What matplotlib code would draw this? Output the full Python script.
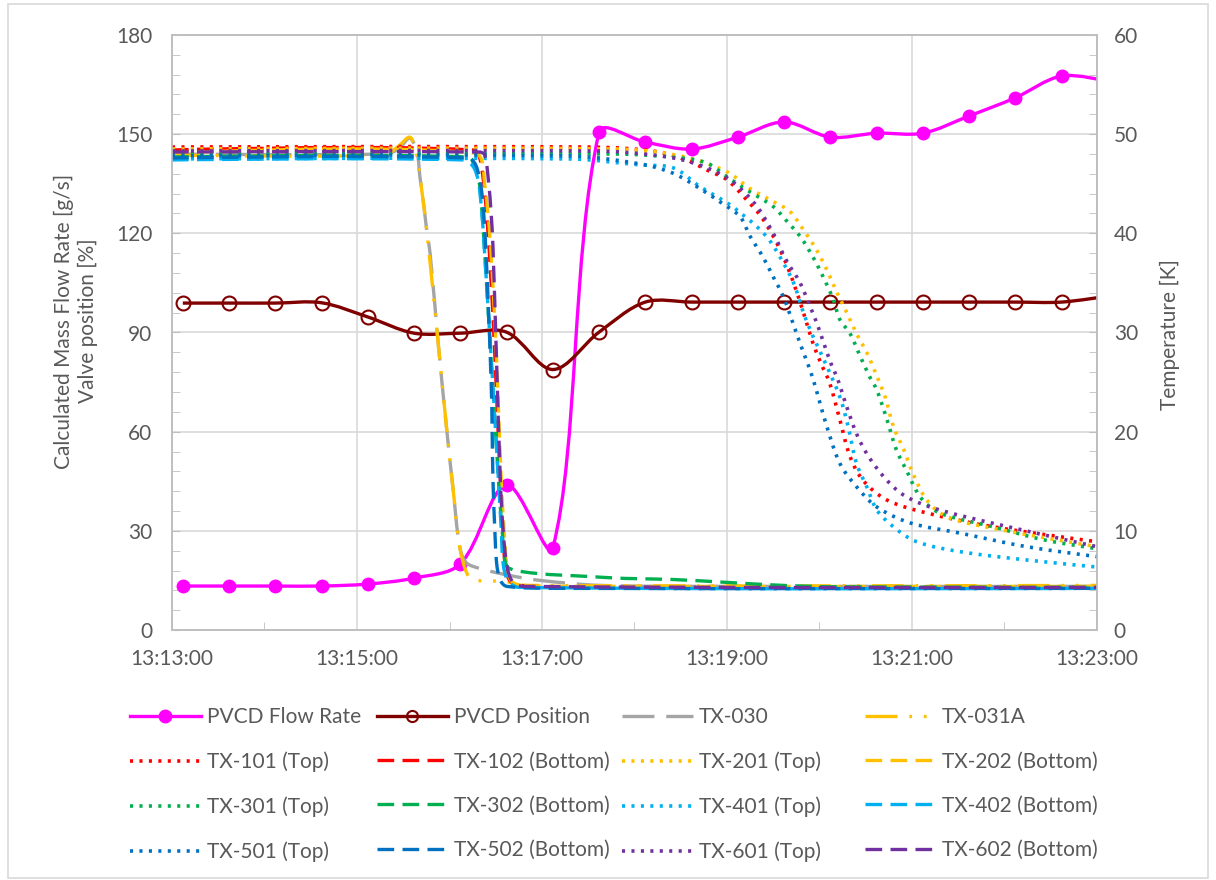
import datetime as dt
import numpy as np
import matplotlib
matplotlib.use("Agg")
import matplotlib.pyplot as plt
import matplotlib.dates as mdates
from matplotlib.path import Path
from matplotlib.patches import PathPatch, Rectangle
from matplotlib.lines import Line2D

# ---------------- data ----------------
# PVCD samples, clock time
pvcd_time = ["13:13:07", "13:13:37", "13:14:07", "13:14:37", "13:15:07", "13:15:37",
             "13:16:07", "13:16:37", "13:17:07", "13:17:37", "13:18:07", "13:18:37",
             "13:19:07", "13:19:37", "13:20:07", "13:20:37", "13:21:07", "13:21:37",
             "13:22:07", "13:22:37", "13:23:07"]
pvcd_flow = [13.3, 13.3, 13.3, 13.3, 13.9, 15.7, 20.0, 43.9, 24.8, 150.6, 147.6, 145.5,
             149.1, 153.7, 149.1, 150.3, 150.3, 155.5, 161.0, 167.6, 166.0]
pvcd_pos = [98.9, 98.9, 98.9, 99.0, 94.7, 89.8, 89.8, 90.1, 78.8, 90.1, 99.2, 99.2,
            99.2, 99.2, 99.2, 99.2, 99.2, 99.2, 99.2, 99.2, 101.0]

# temperatures: minutes after 13:13:00, kelvin
tx030_t = [0, 2.3, 2.45, 2.57, 2.65, 2.68, 2.72, 2.75, 2.79, 2.88, 2.97, 3.04, 3.11, 3.18, 3.33, 3.65, 3.98, 4.63, 6.0, 10.0]
tx030_k = [48.0, 48.0, 48.5, 49.6, 48.1, 45.7, 43.0, 40.6, 38.0, 28.7, 20.2, 14.1, 8.4, 6.8, 6.2, 5.5, 5.0, 4.5, 4.4, 4.4]
tx031a_t = [0, 2.3, 2.45, 2.57, 2.63, 2.68, 2.75, 2.88, 2.97, 3.04, 3.11, 3.2, 3.3, 3.6, 3.8, 10.0]
tx031a_k = [47.9, 47.9, 48.8, 49.7, 48.5, 45.7, 40.6, 28.7, 20.2, 14.1, 8.4, 5.5, 5.0, 4.9, 4.5, 4.5]

tx101_t = [0, 4.5, 5.2, 5.56, 5.78, 6.0, 6.21, 6.36, 6.5, 6.61, 6.72, 6.83, 6.93, 7.02, 7.11, 7.22, 7.33, 7.47, 7.73, 8.16, 8.88, 10.0]
tx101_k = [48.7, 48.7, 48.3, 47.4, 46.4, 45.4, 43.4, 41.8, 39.7, 37.6, 35.0, 31.9, 28.9, 26.8, 24.9, 21.2, 17.5, 15.1, 13.1, 11.8, 10.4, 8.9]
tx102_t = [0, 3.25, 3.35, 3.45, 3.55, 3.58, 3.60, 3.65, 3.76, 4.5, 10.0]
tx102_k = [48.4, 48.4, 46.5, 35.0, 15.1, 10.1, 6.7, 5.0, 4.5, 4.3, 4.3]

tx201_t = [0, 4.8, 5.5, 6.0, 6.25, 6.5, 6.68, 6.83, 6.97, 7.08, 7.19, 7.28, 7.40, 7.51, 7.62, 7.71, 7.80, 7.91, 8.01, 8.16, 8.38, 8.88, 10.0]
tx201_k = [48.5, 48.5, 47.8, 46.2, 44.5, 43.2, 42.2, 40.3, 38.3, 36.3, 34.0, 32.3, 29.9, 28.0, 25.6, 23.5, 20.5, 18.2, 15.8, 13.1, 11.4, 10.25, 8.4]
tx202_t = [0, 3.27, 3.38, 3.48, 3.56, 3.59, 3.62, 3.67, 3.8, 4.5, 10.0]
tx202_k = [48.1, 48.1, 45.0, 33.0, 15.0, 10.0, 6.5, 4.9, 4.5, 4.4, 4.4]

tx301_t = [0, 4.8, 5.5, 5.78, 6.0, 6.21, 6.5, 6.64, 6.79, 6.93, 7.04, 7.15, 7.22, 7.33, 7.44, 7.55, 7.62, 7.73, 7.83, 7.94, 8.09, 8.30, 8.88, 9.42, 10.0]
tx301_k = [48.0, 48.0, 47.6, 47.1, 45.7, 44.4, 42.7, 41.3, 39.7, 37.6, 35.6, 33.3, 31.3, 29.9, 27.6, 25.4, 24.2, 21.2, 18.2, 16.1, 13.4, 11.8, 10.4, 9.1, 8.2]
tx302_t = [0, 3.2, 3.28, 3.33, 3.40, 3.53, 3.57, 3.60, 3.65, 3.95, 4.5, 4.9, 5.4, 6.0, 6.6, 7.2, 10.0]
tx302_k = [47.7, 47.7, 46.5, 44.5, 35.0, 15.0, 10.0, 7.0, 6.2, 5.7, 5.4, 5.2, 5.1, 4.8, 4.5, 4.35, 4.3]

tx401_t = [0, 4.3, 5.06, 5.42, 5.71, 6.03, 6.18, 6.32, 6.46, 6.61, 6.72, 6.83, 6.93, 7.05, 7.22, 7.31, 7.40, 7.51, 7.62, 7.80, 8.05, 8.52, 9.24, 10.0]
tx401_k = [47.5, 47.5, 46.9, 46.6, 44.7, 42.9, 41.8, 40.7, 39.3, 37.0, 35.0, 31.9, 29.6, 27.2, 23.5, 20.5, 16.8, 14.45, 12.1, 10.4, 8.9, 7.9, 7.06, 6.35]
tx402_t = [0, 3.15, 3.27, 3.33, 3.40, 3.53, 3.56, 3.58, 3.63, 3.75, 10.0]
tx402_k = [47.4, 47.4, 46.5, 44.0, 35.0, 15.0, 10.0, 6.7, 5.0, 4.3, 4.2]

tx501_t = [0, 4.3, 5.06, 5.42, 5.71, 5.92, 6.14, 6.25, 6.39, 6.50, 6.61, 6.70, 6.79, 6.92, 7.08, 7.22, 7.40, 7.62, 7.98, 8.52, 9.24, 10.0]
tx501_k = [47.8, 47.8, 47.0, 46.05, 44.5, 43.2, 41.7, 39.7, 37.6, 35.6, 33.6, 31.3, 28.9, 25.6, 20.5, 16.8, 14.45, 12.4, 10.8, 9.77, 8.4, 7.4]
tx502_t = [0, 3.2, 3.3, 3.37, 3.45, 3.47, 3.49, 3.51, 3.55, 3.62, 4.2, 10.0]
tx502_k = [47.6, 47.6, 46.5, 42.0, 25.0, 15.1, 10.1, 6.7, 5.0, 4.4, 4.2, 4.2]

tx601_t = [0, 4.6, 5.2, 5.6, 6.0, 6.3, 6.5, 6.64, 6.79, 6.90, 7.0, 7.11, 7.20, 7.28, 7.40, 7.51, 7.69, 7.91, 8.23, 8.88, 10.0]
tx601_k = [48.3, 48.3, 47.9, 47.2, 45.6, 43.0, 40.0, 37.3, 35.0, 32.6, 30.2, 27.2, 25.2, 22.9, 19.8, 17.8, 15.5, 13.6, 12.3, 10.75, 8.4]
tx602_t = [0, 3.32, 3.38, 3.42, 3.45, 3.47, 3.55, 3.58, 3.62, 3.68, 3.8, 10.0]
tx602_k = [48.2, 48.2, 47.9, 45.4, 42.0, 38.6, 15.0, 10.0, 6.5, 4.9, 4.4, 4.3]

# ---------------- style ----------------
plt.rcParams['font.family'] = ['Lato', 'DejaVu Sans']
plt.rcParams['lines.scale_dashes'] = False
TXT = '#595959'
GRID = '#D9D9D9'
FS = 15

DOT = (0, (2.2, 4.6))
DASH = (0, (12, 6))
LONGDASH = (0, (23, 8.5))
LONGDASHDOTDOT = (0, (23, 8.5, 2, 8.5, 2, 8.5))

T0 = dt.datetime(2020, 1, 1, 13, 13, 0)


def mins(m):
    return mdates.date2num(T0) + np.asarray(m, dtype=float) / 1440.0


def clock(strs):
    return mdates.date2num([dt.datetime.combine(T0.date(), dt.time.fromisoformat(s)) for s in strs])


def smooth_path(axis, x, y, s=0.33):
    # excel-like smoothed line: cubic bezier through the points, built in pixel space
    P = axis.transData.transform(np.column_stack([x, y]))
    n = len(P)
    cin = P.copy()
    cout = P.copy()
    for i in range(1, n - 1):
        d0 = np.hypot(*(P[i] - P[i - 1]))
        d1 = np.hypot(*(P[i + 1] - P[i]))
        tang = P[i + 1] - P[i - 1]
        tot = d0 + d1 if d0 + d1 > 0 else 1.0
        cin[i] = P[i] - tang * d0 / tot * s
        cout[i] = P[i] + tang * d1 / tot * s
    verts = [P[0]]
    codes = [Path.MOVETO]
    for i in range(n - 1):
        verts += [cout[i], cin[i + 1], P[i + 1]]
        codes += [Path.CURVE4] * 3
    verts = axis.transData.inverted().transform(np.array(verts))
    return Path(verts, codes)


fig = plt.figure(figsize=(12.16, 8.8), dpi=100)
ax = fig.add_axes([172 / 1216, 1 - 630 / 880, 925 / 1216, 595 / 880])
ax2 = ax.twinx()

ax.set_xlim(mins(0), mins(10))
ax.set_ylim(0, 180)
ax2.set_ylim(0, 60)

# ticks + gridlines
ax.set_yticks(np.arange(0, 181, 30))
ax.yaxis.set_minor_locator(plt.MultipleLocator(6))
ax2.set_yticks(np.arange(0, 61, 10))
ax2.yaxis.set_minor_locator(plt.MultipleLocator(2))
ax.xaxis.set_major_locator(mdates.MinuteLocator(byminute=[13, 15, 17, 19, 21, 23]))
ax.xaxis.set_minor_locator(mdates.MinuteLocator(byminute=[14, 16, 18, 20, 22]))
ax.xaxis.set_major_formatter(mdates.DateFormatter('%H:%M:%S'))
ax.grid(True, which='major', color=GRID, lw=1.2)
ax.set_axisbelow(True)

for a in (ax, ax2):
    for sp in a.spines.values():
        sp.set_color('#BFBFBF')
        sp.set_linewidth(1.2)
ax.tick_params(axis='both', which='both', direction='in', color='#BFBFBF', labelcolor=TXT, labelsize=FS)
ax.tick_params(axis='x', which='major', length=0, pad=14)
ax.tick_params(axis='x', which='minor', length=6)
ax.tick_params(axis='y', which='both', length=6, pad=14)
ax2.tick_params(axis='y', which='both', direction='in', length=6, color='#BFBFBF',
                labelcolor=TXT, labelsize=FS, pad=12)

# PVCD series on left axis
ft = clock(pvcd_time)
ax.add_patch(PathPatch(smooth_path(ax, ft, pvcd_flow), fill=False, ec='#FF00FF', lw=2.4, zorder=3))
ax.plot(ft, pvcd_flow, 'o', color='#FF00FF', ms=9, zorder=4, clip_on=True)
ax.add_patch(PathPatch(smooth_path(ax, ft, pvcd_pos), fill=False, ec='#800000', lw=2.4, zorder=3))
ax.plot(ft, pvcd_pos, 'o', mfc='none', mec='#800000', mew=1.5, ms=10, zorder=4)

# temperatures on right axis
temps = [
    ("TX-030", tx030_t, tx030_k, '#A5A5A5', LONGDASH),
    ("TX-031A", tx031a_t, tx031a_k, '#FFC000', LONGDASHDOTDOT),
    ("TX-101 (Top)", tx101_t, tx101_k, '#FF0000', DOT),
    ("TX-102 (Bottom)", tx102_t, tx102_k, '#FF0000', DASH),
    ("TX-201 (Top)", tx201_t, tx201_k, '#FFC000', DOT),
    ("TX-202 (Bottom)", tx202_t, tx202_k, '#FFC000', DASH),
    ("TX-301 (Top)", tx301_t, tx301_k, '#00B050', DOT),
    ("TX-302 (Bottom)", tx302_t, tx302_k, '#00B050', DASH),
    ("TX-401 (Top)", tx401_t, tx401_k, '#00B0F0', DOT),
    ("TX-402 (Bottom)", tx402_t, tx402_k, '#00B0F0', DASH),
    ("TX-501 (Top)", tx501_t, tx501_k, '#0070C0', DOT),
    ("TX-502 (Bottom)", tx502_t, tx502_k, '#0070C0', DASH),
    ("TX-601 (Top)", tx601_t, tx601_k, '#7030A0', DOT),
    ("TX-602 (Bottom)", tx602_t, tx602_k, '#7030A0', DASH),
]
handles = {
    "PVCD Flow Rate": Line2D([], [], color='#FF00FF', lw=2.4, marker='o', ms=9),
    "PVCD Position": Line2D([], [], color='#800000', lw=2.4, marker='o', mfc='none', mew=1.5, ms=8),
}
for name, t, k, col, ls in temps:
    lw = 2.6 if ls == DOT else 2.4
    ax2.add_patch(PathPatch(smooth_path(ax2, mins(t), k), fill=False, ec=col, lw=lw,
                            ls=ls, capstyle='butt', joinstyle='round'))
    handles[name] = Line2D([], [], color=col, lw=lw, ls=ls)

# axis titles
fig.text(76 / 1216, 1 - 321 / 880, "Calculated Mass Flow Rate [g/s]\nValve position [%]",
         rotation=90, ha='center', va='center', multialignment='center',
         color=TXT, fontsize=FS, linespacing=1.2)
fig.text(1170 / 1216, 1 - 335 / 880, "Temperature [K]", rotation=90, ha='center',
         va='center', color=TXT, fontsize=FS)

# legend: four equal columns like the excel one
columns = [
    ["PVCD Flow Rate", "TX-101 (Top)", "TX-301 (Top)", "TX-501 (Top)"],
    ["PVCD Position", "TX-102 (Bottom)", "TX-302 (Bottom)", "TX-502 (Bottom)"],
    ["TX-030", "TX-201 (Top)", "TX-401 (Top)", "TX-601 (Top)"],
    ["TX-031A", "TX-202 (Bottom)", "TX-402 (Bottom)", "TX-602 (Bottom)"],
]
col_x = [130, 377, 622, 865]
for xpx, names in zip(col_x, columns):
    leg = fig.legend([handles[n] for n in names], names, loc='upper left',
                     bbox_to_anchor=(xpx / 1216, 1 - 707 / 880), frameon=False,
                     fontsize=FS, borderpad=0, borderaxespad=0, handlelength=3.4,
                     handletextpad=0.3, labelspacing=1.17, numpoints=1)
    for txt in leg.get_texts():
        txt.set_color(TXT)

# outer chart border
fig.add_artist(Rectangle((8 / 1216, 2 / 880), 1 - 16 / 1216, 1 - 6 / 880, transform=fig.transFigure,
                         fill=False, ec='#D9D9D9', lw=1.2))

fig.savefig("out.png", dpi=100, facecolor='white')
